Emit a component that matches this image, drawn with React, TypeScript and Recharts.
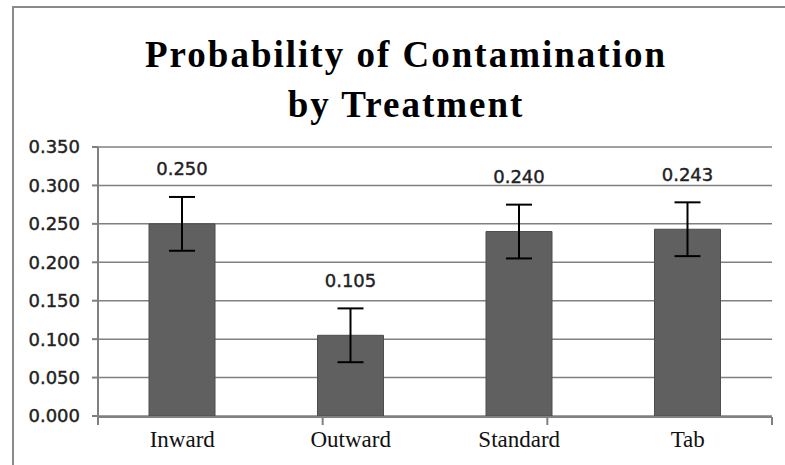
import React from 'react'
import { BarChart, Bar, XAxis, YAxis, CartesianGrid, ErrorBar, LabelList } from 'recharts'

const treatments = ['Inward', 'Outward', 'Standard', 'Tab']
const probability = [0.25, 0.105, 0.24, 0.243]
const stdError = [0.035, 0.035, 0.035, 0.035]
const yTicks = [0, 0.05, 0.1, 0.15, 0.2, 0.25, 0.3, 0.35]
const edgeTicks = [0, 1, 2, 3, 4]

const data = treatments.map((name, i) => ({
  name,
  value: probability[i],
  err: stdError[i],
}))

const gray = '#808080'

const ValueLabel = (props: any) => {
  const { x, y, width, height, value, index } = props
  const pxPerUnit = value ? height / value : 0
  const errTop = y - stdError[index] * pxPerUnit
  return (
    <text
      x={x + width / 2}
      y={errTop - 28}
      textAnchor="middle"
      dominantBaseline="central"
      fontFamily="DejaVu Sans"
      fontSize={18}
      fill="#222"
      stroke="#222"
      strokeWidth={0.4}
    >
      {Number(value).toFixed(3)}
    </text>
  )
}

export default function App() {
  return (
    <div style={{ position: 'absolute', left: 0, top: 0, width: 785, height: 465, background: '#fff' }}>
      <div
        style={{
          position: 'absolute',
          left: 12,
          top: 6,
          width: 773,
          height: 459,
          borderTop: '2px solid #8a8a8a',
          borderLeft: '2px solid #8a8a8a',
          boxSizing: 'border-box',
        }}
      />
      <div style={{ position: 'absolute', left: 0, top: 0 }}>
        <BarChart width={785} height={465} data={data} margin={{ top: 147, right: 13, bottom: 0, left: 0 }}>
          <CartesianGrid vertical={false} stroke={gray} strokeWidth={1.5} />
          {/* category labels sit nearest the plot, nearly no height of their own */}
          <XAxis
            xAxisId="cat"
            dataKey="name"
            axisLine={false}
            tickLine={false}
            tickSize={0}
            tickMargin={15}
            height={1}
            interval={0}
            tick={{ fontFamily: 'Liberation Serif', fontSize: 23, fill: '#111' }}
          />
          {/* boundary ticks between categories, like the Excel axis */}
          <XAxis
            xAxisId="edge"
            type="number"
            domain={[0, 4]}
            ticks={edgeTicks}
            interval={0}
            tickFormatter={() => ''}
            tickSize={8}
            height={48}
            stroke={gray}
            strokeWidth={2}
          />
          <YAxis
            domain={[0, 0.35]}
            ticks={yTicks}
            width={98}
            tickSize={6}
            tickMargin={12}
            stroke={gray}
            strokeWidth={2}
            tickFormatter={(v: number) => v.toFixed(3)}
            tick={{ fontFamily: 'DejaVu Sans', fontSize: 18, fill: '#222', stroke: '#222', strokeWidth: 0.4 }}
          />
          <Bar
            dataKey="value"
            xAxisId="cat"
            barSize={66}
            fill="#606060"
            stroke="#4d4d4d"
            isAnimationActive={false}
          >
            <ErrorBar dataKey="err" width={13} strokeWidth={2} stroke="#000" />
            <LabelList dataKey="value" content={ValueLabel} />
          </Bar>
        </BarChart>
      </div>
      <div
        style={{
          position: 'absolute',
          left: 0,
          top: 30,
          width: 812,
          textAlign: 'center',
          fontFamily: 'Liberation Serif',
          fontWeight: 'bold',
          fontSize: 37,
          lineHeight: '50px',
          letterSpacing: 2,
          color: '#000',
          pointerEvents: 'none',
        }}
      >
        <div>Probability of Contamination</div>
        <div>by Treatment</div>
      </div>
    </div>
  )
}
